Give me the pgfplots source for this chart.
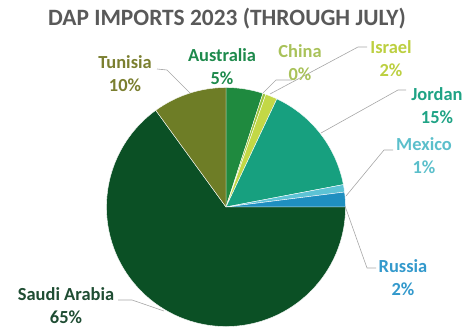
\documentclass[border=0pt]{standalone}
\usepackage{fontspec}
\setmainfont{Carlito}
\usepackage{pgfplots}
\usepackage{pgfplotstable}
\pgfplotsset{compat=1.18}
\definecolor{c0}{HTML}{1F8A3F}
\definecolor{c1}{HTML}{9DC53E}
\definecolor{c2}{HTML}{C3D846}
\definecolor{c3}{HTML}{17A07F}
\definecolor{c4}{HTML}{5DC3D5}
\definecolor{c5}{HTML}{1F8FC0}
\definecolor{c6}{HTML}{0B5025}
\definecolor{c7}{HTML}{6E7D26}
\definecolor{l0}{HTML}{1E8A4C}
\definecolor{l1}{HTML}{A9C25A}
\definecolor{l2}{HTML}{BCCF40}
\definecolor{l3}{HTML}{1FA385}
\definecolor{l4}{HTML}{5BBFCB}
\definecolor{l5}{HTML}{3399CC}
\definecolor{l6}{HTML}{1F4D33}
\definecolor{l7}{HTML}{7B7F30}
\definecolor{titlegray}{HTML}{595959}
\definecolor{leader}{HTML}{A6A6A6}
\pgfplotstableread{
name value
Australia 5
China 0.4
Israel 1.6
Jordan 15
Mexico 1
Russia 2
Saudi 65
Tunisia 10
}\piedata
\begin{document}
\begin{tikzpicture}
\begin{axis}[
  scale only axis, width=464bp, height=328bp,
  xmin=0, xmax=464, ymin=0, ymax=328, y dir=reverse,
  hide axis, clip=false, enlargelimits=false]
\path (axis cs:0,0) rectangle (axis cs:464,328);
\def\cum{90}
\pgfplotsforeachungrouped \i in {0,...,7}{%
  \pgfplotstablegetelem{\i}{value}\of\piedata
  \pgfmathsetmacro\endang{\cum - \pgfplotsretval*3.6}%
  \edef\cmd{\noexpand\fill[fill=c\i, draw=white, line width=0.4pt] (axis cs:226,207) -- ++(\cum:119.5bp) arc[start angle=\cum, end angle=\endang, radius=119.5bp] -- cycle;}%
  \cmd
  \global\let\cum\endang
}
% leader lines
\draw[leader, line width=0.6pt] (axis cs:157,69) -- (axis cs:167,70) -- (axis cs:190,93);
\draw[leader, line width=0.6pt] (axis cs:292,80) -- (axis cs:276,80) -- (axis cs:263,93);
\draw[leader, line width=0.6pt] (axis cs:367,47) -- (axis cs:358,47) -- (axis cs:270,94);
\draw[leader, line width=0.6pt] (axis cs:406,90) -- (axis cs:398,90) -- (axis cs:321,133);
\draw[leader, line width=0.6pt] (axis cs:393,150) -- (axis cs:384,150) -- (axis cs:346,196);
\draw[leader, line width=0.6pt] (axis cs:345,206) -- (axis cs:367,268) -- (axis cs:376,268);
\draw[leader, line width=0.6pt] (axis cs:118,300) -- (axis cs:132,300) -- (axis cs:164,311);
% labels
\tikzset{lab/.style={font=\bfseries\fontsize{18.5}{23}\selectfont, align=center, inner sep=0pt}}
\node[lab, text=l7] at (axis cs:125,74) {Tunisia\\10\%};
\node[lab, text=l0] at (axis cs:222,67) {Australia\\5\%};
\node[lab, text=l1] at (axis cs:300,62.5) {China\\0\%};
\node[lab, text=l2] at (axis cs:391,58.5) {Israel\\2\%};
\node[lab, text=l3] at (axis cs:437,105.5) {Jordan\\15\%};
\node[lab, text=l4] at (axis cs:424,155.5) {Mexico\\1\%};
\node[lab, text=l5] at (axis cs:403,277.5) {Russia\\2\%};
\node[lab, text=l6] at (axis cs:66,306) {Saudi Arabia\\65\%};
\node[font=\bfseries\fontsize{23.5}{28}\selectfont, text=titlegray, inner sep=0pt] at (axis cs:227,19) {DAP IMPORTS 2023 (THROUGH JULY)};
\end{axis}
\end{tikzpicture}
\end{document}
